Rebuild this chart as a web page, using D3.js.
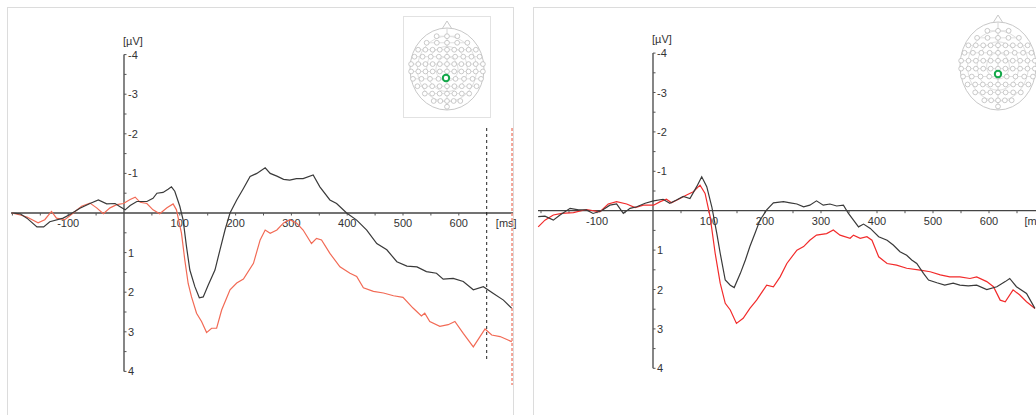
<!DOCTYPE html>
<html><head><meta charset="utf-8">
<script src="https://cdn.jsdelivr.net/npm/d3@7"></script>
<style>
html,body{margin:0;padding:0;background:#fff;overflow:hidden}
svg{display:block}
text{font-family:"Liberation Sans",Arial,sans-serif;font-size:11px;fill:#333}
</style></head><body>
<svg id="c" width="1036" height="415"></svg>
<script>
// ---------- data (time ms, amplitude µV; negative plotted up) ----------
const xTicks = [-100, 100, 200, 300, 400, 500, 600];
const yTicks = [-4, -3, -2, -1, 1, 2, 3, 4];
const xUnit = "[ms]";
const yUnit = "[µV]";

const leftBlack = [[-201,0],[-186,0.02],[-174,0.13],[-156,0.35],[-144,0.35],[-133,0.22],[-109,0.13],[-97,0.04],[-79,-0.12],[-61,-0.24],[-46,-0.33],[-31,-0.23],[-16,-0.24],[-7,-0.16],[2,-0.08],[11,-0.19],[23,-0.29],[41,-0.29],[52,-0.37],[59,-0.5],[70,-0.52],[79,-0.6],[85,-0.66],[91,-0.55],[100,-0.17],[106,0.18],[112,0.85],[118,1.44],[127,1.86],[135,2.14],[142,2.12],[151,1.82],[163,1.44],[172,0.93],[181,0.43],[190,0],[202,-0.33],[214,-0.62],[226,-0.92],[238,-1.0],[253,-1.14],[262,-1.0],[274,-0.93],[286,-0.85],[297,-0.83],[309,-0.87],[321,-0.87],[339,-0.96],[351,-0.66],[369,-0.33],[381,-0.24],[399,0],[417,0.18],[435,0.43],[453,0.77],[471,0.93],[489,1.23],[507,1.34],[525,1.36],[542,1.48],[560,1.52],[572,1.67],[590,1.65],[608,1.73],[626,1.94],[644,1.86],[662,2.03],[680,2.2],[695,2.41]];
const leftRed = [[-201,0],[-186,0.05],[-174,0.1],[-154,0.25],[-142,0.17],[-130,-0.04],[-121,0.13],[-106,0.17],[-91,0],[-76,-0.17],[-61,-0.25],[-49,-0.13],[-37,0.02],[-25,-0.13],[-13,-0.21],[-1,-0.24],[11,-0.34],[20,-0.4],[29,-0.27],[41,-0.24],[52,-0.08],[64,0.02],[77,-0.13],[88,-0.23],[94,-0.08],[103,0.51],[109,1.19],[115,1.78],[121,2.12],[130,2.53],[139,2.74],[148,3.02],[157,2.91],[166,2.91],[175,2.45],[190,1.94],[202,1.77],[214,1.67],[232,1.27],[244,0.68],[253,0.43],[262,0.51],[274,0.43],[286,0.25],[297,0.17],[309,0.25],[321,0.43],[336,0.77],[345,0.64],[354,0.68],[369,1.02],[387,1.36],[405,1.52],[417,1.6],[429,1.89],[447,1.98],[465,2.02],[483,2.09],[500,2.13],[518,2.4],[533,2.6],[539,2.53],[548,2.74],[566,2.86],[581,2.82],[593,2.74],[608,3.04],[626,3.38],[638,3.12],[647,2.93],[659,3.08],[674,3.12],[695,3.25]];
const rightBlack = [[-205,0.15],[-193,0.14],[-178,0.24],[-166,0.11],[-148,-0.06],[-133,-0.02],[-119,-0.02],[-107,0.07],[-92,0],[-77,-0.14],[-65,-0.17],[-53,0.07],[-41,-0.06],[-29,-0.1],[-14,-0.19],[1,-0.25],[18,-0.29],[30,-0.19],[42,-0.27],[54,-0.36],[66,-0.31],[78,-0.61],[87,-0.86],[96,-0.61],[105,-0.1],[114,0.58],[120,1.08],[129,1.76],[138,1.89],[145,1.95],[156,1.59],[165,1.25],[173,0.91],[182,0.58],[191,0.24],[203,-0.02],[215,-0.2],[233,-0.23],[245,-0.2],[257,-0.17],[269,-0.1],[280,-0.14],[292,-0.25],[304,-0.14],[316,-0.17],[328,-0.12],[340,-0.14],[349,0.07],[358,0.24],[367,0.41],[376,0.34],[388,0.45],[403,0.66],[418,0.75],[429,0.87],[441,1.04],[453,1.13],[462,1.25],[471,1.34],[483,1.59],[492,1.76],[507,1.83],[521,1.89],[536,1.84],[548,1.89],[563,1.91],[578,1.89],[596,2.0],[614,1.93],[629,1.8],[637,1.72],[649,1.93],[667,2.1],[682,2.48]];
const rightRed = [[-205,0.41],[-193,0.24],[-178,0.11],[-163,0.07],[-142,0.05],[-119,-0.03],[-95,0.03],[-80,-0.17],[-65,-0.23],[-47,-0.17],[-32,-0.08],[-17,-0.14],[1,-0.14],[13,-0.23],[24,-0.29],[33,-0.2],[48,-0.31],[60,-0.4],[72,-0.48],[84,-0.65],[93,-0.44],[102,0.15],[111,1.08],[120,1.84],[129,2.35],[138,2.52],[149,2.86],[161,2.73],[173,2.48],[185,2.27],[203,1.89],[215,1.93],[227,1.68],[239,1.34],[257,1.0],[269,0.91],[280,0.75],[292,0.62],[310,0.58],[322,0.49],[334,0.62],[352,0.7],[358,0.62],[370,0.7],[382,0.66],[391,0.75],[403,1.17],[418,1.34],[435,1.38],[453,1.46],[477,1.51],[495,1.55],[513,1.63],[530,1.68],[548,1.68],[566,1.72],[578,1.68],[596,1.8],[608,1.93],[620,2.27],[629,2.31],[643,2.01],[655,2.14],[667,2.31],[682,2.48]];

const leftMarkers = [650, 699];   // dashed cursor lines (ms)
// electrode montage rows: [relative y, count, half-width fraction]
const montageRows = [[-0.8,3,0.28],[-0.64,5,0.55],[-0.47,9,0.78],[-0.3,9,0.88],[-0.12,11,0.97],[0.06,11,0.97],[0.24,9,0.92],[0.42,9,0.8],[0.6,7,0.6],[0.78,5,0.36],[0.92,1,0]];

// ---------- drawing ----------
const svg = d3.select("#c");
const panels = [
  {frame:[7.5,7.5,506,440], x0:124, ppm:0.558, y0:213, ppu:39.6, xLine:[11,513], unitAt:685,
   black:leftBlack, red:leftRed, redColor:"#f26a55", map:{cx:447,cy:69,rx:37,ry:41,box:[403.5,16.5,87,101],sel:[446,78]}, markers:true},
  {frame:[533.5,7.5,540,440], x0:653, ppm:0.56, y0:210.7, ppu:39.4, xLine:[538,1036], unitAt:682,
   black:rightBlack, red:rightRed, redColor:"#f22b2b", map:{cx:998,cy:66,rx:38,ry:44,box:null,sel:[998,74]}, markers:false}
];

panels.forEach(p => {
  const g = svg.append("g");
  g.append("rect").attr("x",p.frame[0]).attr("y",p.frame[1]).attr("width",p.frame[2]).attr("height",p.frame[3])
    .attr("fill","#fff").attr("stroke","#dcdcdc");

  const x = d3.scaleLinear().domain([0,100]).range([p.x0, p.x0 + 100*p.ppm]);
  const y = d3.scaleLinear().domain([0,1]).range([p.y0, p.y0 + p.ppu]);

  // x axis line
  g.append("line").attr("x1",p.xLine[0]).attr("x2",p.xLine[1]).attr("y1",y(0)).attr("y2",y(0))
    .attr("stroke","#444").attr("stroke-width",1.3);
  const minorX = d3.range(-200, 701, 50).filter(t => t !== 0 && x(t) > p.xLine[0] && x(t) < p.xLine[1]);
  g.selectAll(".xt").data(minorX).join("line")
    .attr("x1",d=>x(d)).attr("x2",d=>x(d)).attr("y1",y(0)).attr("y2",y(0)+2.5).attr("stroke","#555");
  g.selectAll(".xl").data(xTicks).join("text")
    .attr("x",d=>x(d)).attr("y",y(0)+14).attr("text-anchor","middle").text(d=>d);
  g.append("text").attr("x",x(p.unitAt)).attr("y",y(0)+14).attr("text-anchor","middle").text(xUnit);

  // y axis
  g.append("line").attr("x1",x(0)).attr("x2",x(0)).attr("y1",y(-4)).attr("y2",y(4))
    .attr("stroke","#444").attr("stroke-width",1.3);
  const minorY = d3.range(-4, 4.01, 0.5).filter(v => v !== 0);
  g.selectAll(".yt").data(minorY).join("line")
    .attr("x1",x(0)).attr("x2",x(0)+2.5).attr("y1",d=>y(d)).attr("y2",d=>y(d)).attr("stroke","#555");
  g.selectAll(".yl").data(yTicks).join("text")
    .attr("x",x(0)+4).attr("y",d=>y(d)+4).text(d=>d);
  g.append("text").attr("x",x(0)-1).attr("y",y(-4)-10).text(yUnit);

  // curves
  const line = d3.line().x(d=>x(d[0])).y(d=>y(d[1])).curve(d3.curveLinear);
  g.append("path").datum(p.red).attr("d",line).attr("fill","none").attr("stroke",p.redColor).attr("stroke-width",1.2);
  g.append("path").datum(p.black).attr("d",line).attr("fill","none").attr("stroke","#3a3a3a").attr("stroke-width",1.2);

  if (p.markers) {
    g.append("line").attr("x1",x(leftMarkers[0])).attr("x2",x(leftMarkers[0])).attr("y1",128).attr("y2",362)
      .attr("stroke","#222").attr("stroke-dasharray","3,3");
    g.append("line").attr("x1",x(leftMarkers[1])-2).attr("x2",x(leftMarkers[1])-2).attr("y1",128).attr("y2",385)
      .attr("stroke","#f08a7a").attr("stroke-width",1.5).attr("stroke-dasharray","3,2");
  }

  // electrode map
  const m = p.map;
  const mg = g.append("g");
  if (m.box) mg.append("rect").attr("x",m.box[0]).attr("y",m.box[1]).attr("width",m.box[2]).attr("height",m.box[3])
    .attr("fill","#fff").attr("stroke","#e2e2e2");
  mg.append("path").attr("d",`M${m.cx-5},${m.cy-m.ry+1} L${m.cx},${m.cy-m.ry-7} L${m.cx+5},${m.cy-m.ry+1}`)
    .attr("fill","none").attr("stroke","#c8c8c8");
  mg.append("ellipse").attr("cx",m.cx).attr("cy",m.cy).attr("rx",m.rx).attr("ry",m.ry).attr("fill","#fff").attr("stroke","#c8c8c8");
  mg.append("ellipse").attr("cx",m.cx).attr("cy",m.cy).attr("rx",m.rx*0.8).attr("ry",m.ry*0.8).attr("fill","none").attr("stroke","#e0e0e0");
  mg.append("ellipse").attr("cx",m.cx).attr("cy",m.cy).attr("rx",m.rx*0.55).attr("ry",m.ry*0.55).attr("fill","none").attr("stroke","#e0e0e0");
  mg.append("ellipse").attr("cx",m.cx).attr("cy",m.cy).attr("rx",m.rx*0.3).attr("ry",m.ry*0.3).attr("fill","none").attr("stroke","#e0e0e0");
  const elec = [];
  montageRows.forEach(r => {
    const n = r[1];
    for (let i = 0; i < n; i++) {
      const f = n === 1 ? 0 : -1 + 2*i/(n-1);
      elec.push([m.cx + f*r[2]*m.rx, m.cy + r[0]*m.ry]);
    }
  });
  // row lines
  montageRows.forEach(r => {
    if (r[1] > 1) mg.append("line").attr("x1",m.cx-r[2]*m.rx).attr("x2",m.cx+r[2]*m.rx)
      .attr("y1",m.cy+r[0]*m.ry).attr("y2",m.cy+r[0]*m.ry).attr("stroke","#e0e0e0");
  });
  mg.append("line").attr("x1",m.cx).attr("x2",m.cx).attr("y1",m.cy-m.ry).attr("y2",m.cy+m.ry).attr("stroke","#d6d6d6");
  mg.selectAll(".el").data(elec).join("circle").attr("cx",d=>d[0]).attr("cy",d=>d[1]).attr("r",2.4)
    .attr("fill","#fff").attr("stroke","#bcbcbc").attr("stroke-width",0.8);
  mg.append("circle").attr("cx",m.sel[0]).attr("cy",m.sel[1]).attr("r",3.2).attr("fill","#fff")
    .attr("stroke","#14a84a").attr("stroke-width",2);
});
</script>
</body></html>
